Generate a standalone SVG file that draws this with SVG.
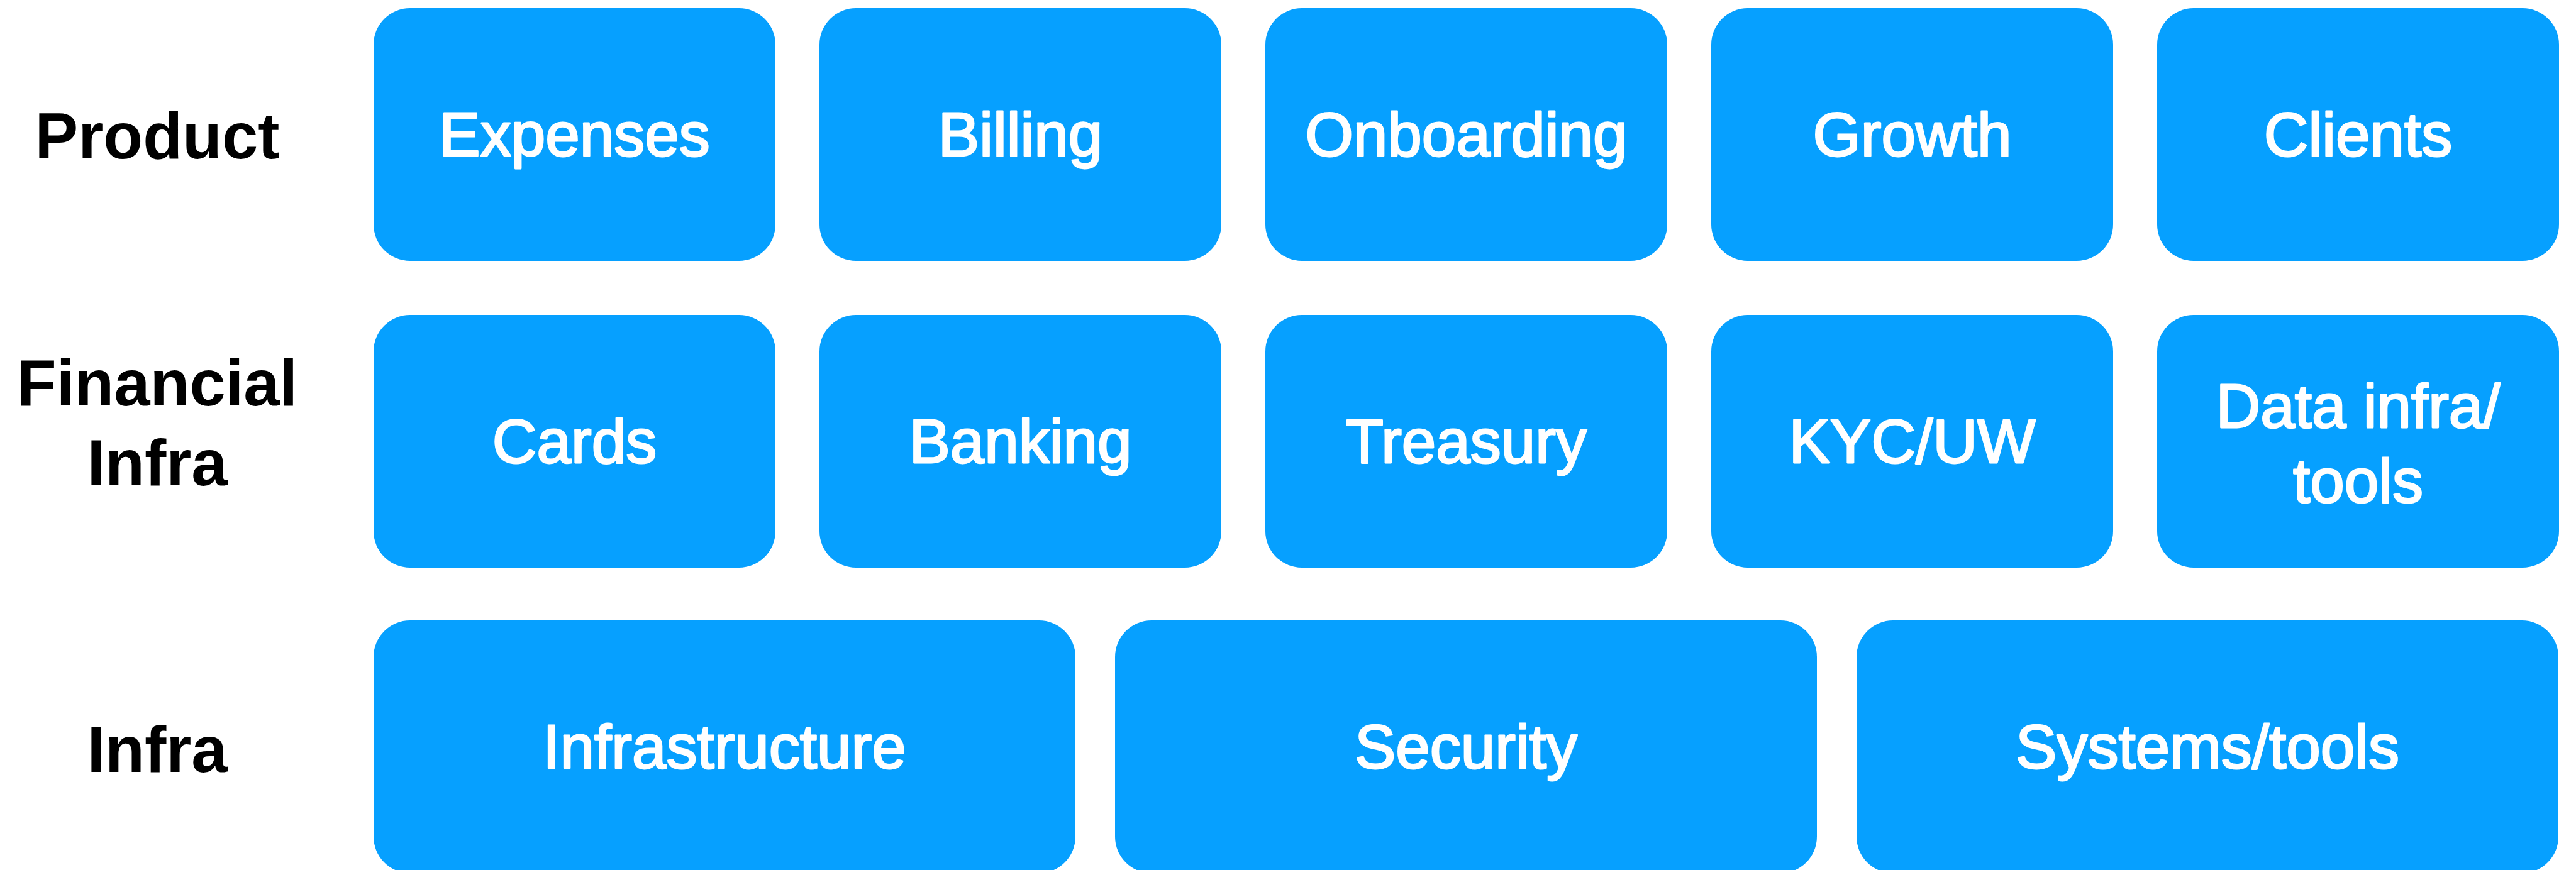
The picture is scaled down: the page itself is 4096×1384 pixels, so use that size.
<svg xmlns="http://www.w3.org/2000/svg" width="4096" height="1384" viewBox="0 0 4096 1384">
  <style>
    .box { fill: #06A0FF; }
    .boxtext { font-family: "Liberation Sans", Arial, Helvetica, sans-serif; font-size: 98px; fill: #FFFFFF; stroke: #FFFFFF; stroke-width: 2.8px; stroke-linejoin: round; text-anchor: middle; }
    .rowlabel { font-family: "Liberation Sans", Arial, Helvetica, sans-serif; font-size: 103px; font-weight: bold; fill: #000000; text-anchor: middle; }
  </style>
  <rect x="0" y="0" width="4096" height="1384" fill="#FFFFFF"/>

  <!-- Row labels -->
  <g id="label-product"><text class="rowlabel" x="250" y="252">Product</text></g>
  <g id="label-financial-infra">
    <text class="rowlabel" x="250" y="645">Financial</text>
    <text class="rowlabel" x="250" y="772">Infra</text>
  </g>
  <g id="label-infra"><text class="rowlabel" x="250" y="1228">Infra</text></g>

  <!-- Product row -->
  <g id="node-expenses">
    <rect class="box" x="594" y="13" width="639" height="402" rx="58" ry="58"/>
    <text class="boxtext" x="913.5" y="248">Expenses</text>
  </g>
  <g id="node-billing">
    <rect class="box" x="1303" y="13" width="639" height="402" rx="58" ry="58"/>
    <text class="boxtext" x="1622.5" y="248">Billing</text>
  </g>
  <g id="node-onboarding">
    <rect class="box" x="2012" y="13" width="639" height="402" rx="58" ry="58"/>
    <text class="boxtext" x="2331.5" y="248">Onboarding</text>
  </g>
  <g id="node-growth">
    <rect class="box" x="2721" y="13" width="639" height="402" rx="58" ry="58"/>
    <text class="boxtext" x="3040.5" y="248">Growth</text>
  </g>
  <g id="node-clients">
    <rect class="box" x="3430" y="13" width="639" height="402" rx="58" ry="58"/>
    <text class="boxtext" x="3749.5" y="248">Clients</text>
  </g>

  <!-- Financial infra row -->
  <g id="node-cards">
    <rect class="box" x="594" y="501" width="639" height="402" rx="58" ry="58"/>
    <text class="boxtext" x="913.5" y="736">Cards</text>
  </g>
  <g id="node-banking">
    <rect class="box" x="1303" y="501" width="639" height="402" rx="58" ry="58"/>
    <text class="boxtext" x="1622.5" y="736">Banking</text>
  </g>
  <g id="node-treasury">
    <rect class="box" x="2012" y="501" width="639" height="402" rx="58" ry="58"/>
    <text class="boxtext" x="2331.5" y="736">Treasury</text>
  </g>
  <g id="node-kyc-uw">
    <rect class="box" x="2721" y="501" width="639" height="402" rx="58" ry="58"/>
    <text class="boxtext" x="3040.5" y="736">KYC/UW</text>
  </g>
  <g id="node-data-infra-tools">
    <rect class="box" x="3430" y="501" width="639" height="402" rx="58" ry="58"/>
    <text class="boxtext" x="3749.5" y="680">Data infra/</text>
    <text class="boxtext" x="3749.5" y="799">tools</text>
  </g>

  <!-- Infra row -->
  <g id="node-infrastructure">
    <rect class="box" x="594" y="987" width="1116" height="402" rx="58" ry="58"/>
    <text class="boxtext" x="1152" y="1222">Infrastructure</text>
  </g>
  <g id="node-security">
    <rect class="box" x="1773" y="987" width="1116" height="402" rx="58" ry="58"/>
    <text class="boxtext" x="2331" y="1222">Security</text>
  </g>
  <g id="node-systems-tools">
    <rect class="box" x="2952" y="987" width="1116" height="402" rx="58" ry="58"/>
    <text class="boxtext" x="3510" y="1222">Systems/tools</text>
  </g>

  <!-- No connectors in this layer chart -->
  <g id="connectors"></g>
</svg>
